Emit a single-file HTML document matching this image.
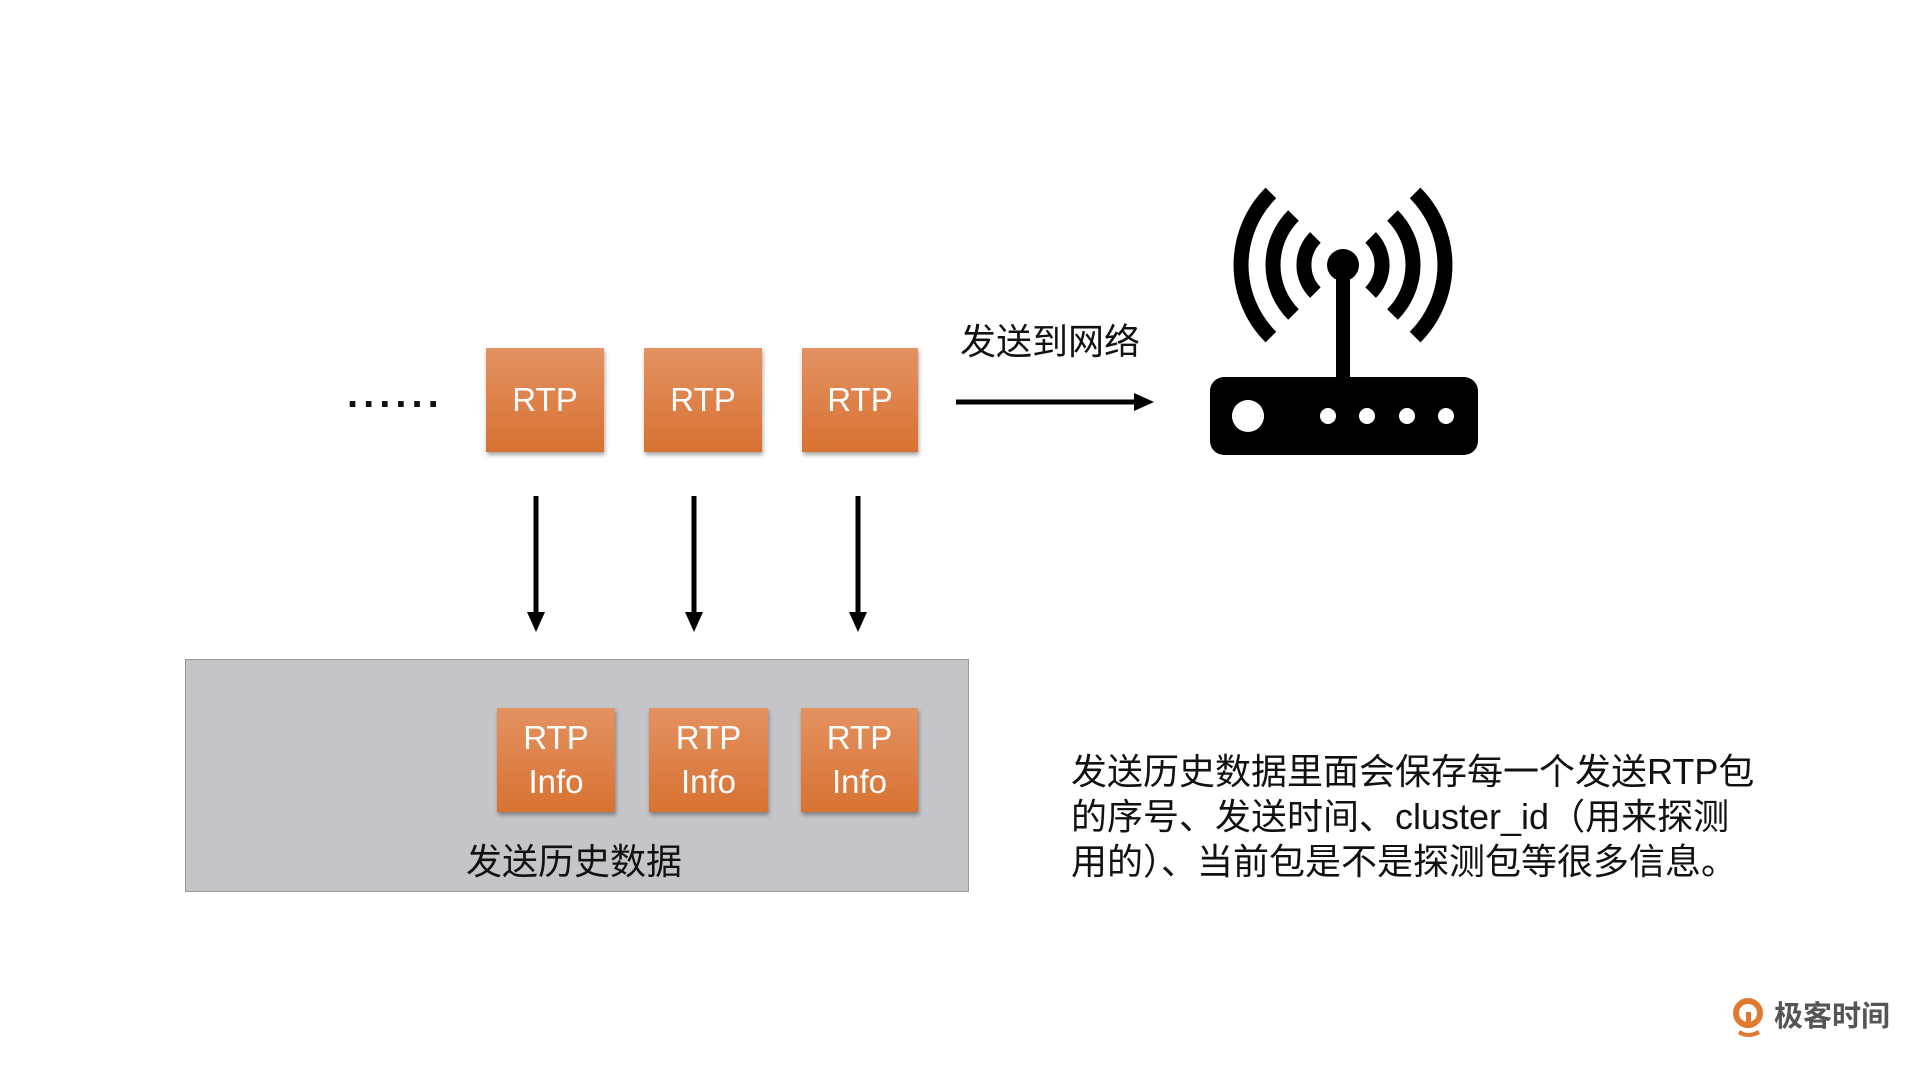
<!DOCTYPE html>
<html><head><meta charset="utf-8"><style>
html,body{margin:0;padding:0;background:#fff;}
body{width:1920px;height:1080px;position:relative;overflow:hidden;font-family:"Liberation Sans","Noto Sans CJK SC",sans-serif;}
.box{position:absolute;background:linear-gradient(#e49262,#d87232);box-shadow:1px 3px 4px rgba(0,0,0,0.35);color:#fff;text-align:center;font-size:33px;display:flex;align-items:center;justify-content:center;line-height:44px;}
.t{position:absolute;white-space:nowrap;color:#111;}
</style></head><body>
<div class="t" style="left:347px;top:372px;font-size:40px;font-weight:bold;letter-spacing:5px;">......</div>
<div class="box" style="left:486px;top:348px;width:118px;height:104px;">RTP</div>
<div class="box" style="left:644px;top:348px;width:118px;height:104px;">RTP</div>
<div class="box" style="left:802px;top:348px;width:116px;height:104px;">RTP</div>
<div class="t" style="left:960px;top:320px;font-size:36px;line-height:44px;">发送到网络</div>
<svg style="position:absolute;left:0;top:0" width="1920" height="1080">
<g stroke="#000" stroke-width="5" fill="none">
<line x1="956" y1="402" x2="1138" y2="402"/>
<line x1="536" y1="496" x2="536" y2="615"/>
<line x1="694" y1="496" x2="694" y2="615"/>
<line x1="858" y1="496" x2="858" y2="615"/>
</g>
<polygon points="1154,402 1134,393 1134,411" fill="#000"/>
<polygon points="536,632 527,612 545,612" fill="#000"/>
<polygon points="694,632 685,612 703,612" fill="#000"/>
<polygon points="858,632 849,612 867,612" fill="#000"/>
<rect x="185.5" y="659.5" width="783" height="232" fill="#c4c5c8" stroke="#999" stroke-width="1"/>
<g fill="none" stroke="#000" stroke-width="15">
<path d="M1315.4,237.4 A39,39 0 0 0 1315.4,292.6"/>
<path d="M1370.6,237.4 A39,39 0 0 1 1370.6,292.6"/>
<path d="M1293.5,215.5 A70,70 0 0 0 1293.5,314.5"/>
<path d="M1392.5,215.5 A70,70 0 0 1 1392.5,314.5"/>
<path d="M1270.9,192.9 A102,102 0 0 0 1270.9,337.1"/>
<path d="M1415.1,192.9 A102,102 0 0 1 1415.1,337.1"/>
</g>
<circle cx="1343" cy="265" r="16" fill="#000"/>
<rect x="1336" y="265" width="14" height="115" fill="#000"/>
<rect x="1210" y="377" width="268" height="78" rx="14" fill="#000"/>
<circle cx="1248" cy="416" r="16" fill="#fff"/>
<circle cx="1328" cy="416" r="8" fill="#fff"/>
<circle cx="1367" cy="416" r="8" fill="#fff"/>
<circle cx="1407" cy="416" r="8" fill="#fff"/>
<circle cx="1446" cy="416" r="8" fill="#fff"/>
<circle cx="1748" cy="1013" r="12" fill="none" stroke="#e07a30" stroke-width="6"/>
<path d="M1740,1030 Q1748,1036 1758,1030 L1760,1034 Q1748,1040 1738,1034Z" fill="#e07a30"/>
<rect x="1746" y="1012" width="5" height="16" fill="#e07a30"/>
</svg>
<div class="box" style="left:497px;top:708px;width:118px;height:104px;">RTP<br>Info</div>
<div class="box" style="left:649px;top:708px;width:119px;height:104px;">RTP<br>Info</div>
<div class="box" style="left:801px;top:708px;width:117px;height:104px;">RTP<br>Info</div>
<div class="t" style="left:466px;top:840px;font-size:36px;line-height:44px;">发送历史数据</div>
<div class="t" style="left:1071px;top:749px;font-size:36px;line-height:45px;">发送历史数据里面会保存每一个发送RTP包<br>的序号、发送时间、cluster_id（用来探测<br>用的）、当前包是不是探测包等很多信息。</div>
<div class="t" style="left:1774px;top:999px;font-size:29px;line-height:36px;font-weight:bold;color:#555;">极客时间</div>
</body></html>
